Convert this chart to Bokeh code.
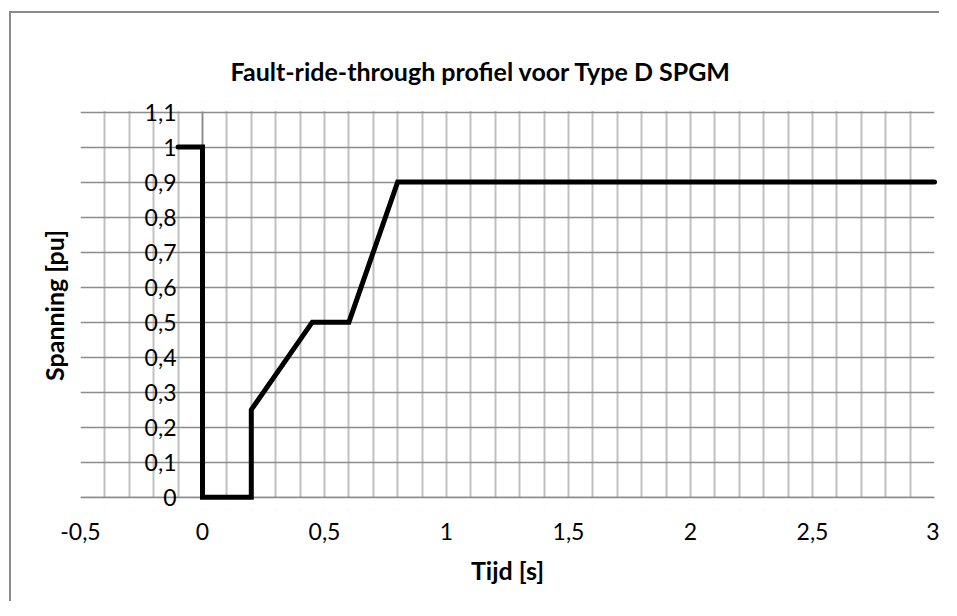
from bokeh.plotting import figure
from bokeh.models import (Range1d, FixedTicker, LinearAxis, CustomJSTickFormatter,
                          Title, BoxAnnotation)
from bokeh.embed import file_html
from bokeh.resources import INLINE
import numpy as np

# ---- data ----
tijd = [-0.1, 0.0, 0.0, 0.2, 0.2, 0.45, 0.6, 0.8, 3.0]
spanning = [1.0, 1.0, 0.0, 0.0, 0.25, 0.5, 0.5, 0.9, 0.9]

x_ticks = [-0.5, 0.0, 0.5, 1.0, 1.5, 2.0, 2.5, 3.0]
y_ticks = [0.0, 0.1, 0.2, 0.3, 0.4, 0.5, 0.6, 0.7, 0.8, 0.9, 1.0, 1.1]
x_minor_grid = [round(v, 1) for v in np.arange(-0.5, 3.0001, 0.1)]

title_text = "Fault-ride-through profiel voor Type D SPGM"
x_label = "Tijd [s]"
y_label = "Spanning [pu]"

X_MIN, X_MAX = -0.5, 3.0
Y_MIN, Y_MAX = 0.0, 1.1

FONT = "Lato"
TICK_SIZE = "23px"
LABEL_SIZE = "25px"

# a little room above 1.1 and below 0 so the y tick labels are not cut off
p = figure(width=930, height=590, output_backend="svg", toolbar_location=None,
           x_range=Range1d(X_MIN, X_MAX), y_range=Range1d(-0.035, 1.13),
           min_border_left=69, min_border_right=7, min_border_top=88,
           min_border_bottom=94)
p.outline_line_color = None
p.background_fill_color = "white"
p.border_fill_color = "white"
# chart-area border (only the left and top edges are visible in the reference)
p.styles = {"margin-left": "9px", "margin-top": "11px",
            "border-left": "2px solid #8a8a8a", "border-top": "2px solid #8a8a8a"}

fmt = CustomJSTickFormatter(code="""
    var s = String(Number(tick.toFixed(2)));
    return s.replace('.', ',');
""")

# x axis (labels only; the axis line is drawn at y = 0 by a second axis)
xa = p.xaxis[0]
xa.ticker = FixedTicker(ticks=x_ticks)
xa.formatter = fmt
xa.axis_line_color = None
xa.major_tick_line_color = None
xa.minor_tick_line_color = None
xa.major_tick_out = 0
xa.major_tick_in = 0
xa.major_label_standoff = 13
xa.major_label_text_font = FONT
xa.major_label_text_font_size = TICK_SIZE
xa.major_label_text_color = "black"
xa.axis_label = x_label
xa.axis_label_text_font = FONT
xa.axis_label_text_font_size = LABEL_SIZE
xa.axis_label_text_font_style = "bold"
xa.axis_label_text_color = "black"
xa.axis_label_standoff = 12

xline = LinearAxis(fixed_location=0, bounds=(X_MIN, X_MAX), ticker=FixedTicker(ticks=[]),
                   axis_line_color="#8a8a8a", axis_line_width=1.5,
                   major_tick_line_color=None, minor_tick_line_color=None)
p.add_layout(xline, "below")

# y axis crossing at x = 0
ya = p.yaxis[0]
ya.fixed_location = 0
ya.bounds = (Y_MIN, Y_MAX)
ya.ticker = FixedTicker(ticks=y_ticks)
ya.formatter = fmt
ya.axis_line_color = "#8a8a8a"
ya.axis_line_width = 1.5
ya.major_tick_line_color = None
ya.minor_tick_line_color = None
ya.major_tick_out = 0
ya.major_tick_in = 0
ya.major_label_standoff = 26
ya.major_label_text_font = FONT
ya.major_label_text_font_size = TICK_SIZE
ya.major_label_text_color = "black"

# separate axis holding only the y label at the left edge
ylab = LinearAxis(ticker=FixedTicker(ticks=[]), axis_label=y_label,
                  axis_line_color=None, major_tick_line_color=None,
                  minor_tick_line_color=None, major_tick_out=0)
ylab.axis_label_text_font = FONT
ylab.axis_label_text_font_size = LABEL_SIZE
ylab.axis_label_text_font_style = "bold"
ylab.axis_label_text_color = "black"
ylab.axis_label_standoff = 12
p.add_layout(ylab, "left")

# grids
p.xgrid.ticker = FixedTicker(ticks=x_minor_grid)
p.xgrid.grid_line_color = "#c0c0c0"
p.xgrid.grid_line_width = 2
p.ygrid.ticker = FixedTicker(ticks=y_ticks)
p.ygrid.grid_line_color = "#8c8c8c"
p.ygrid.grid_line_width = 1.5

# white masks hiding the grid outside 0..1.1
p.add_layout(BoxAnnotation(bottom=Y_MAX + 0.003, fill_color="white", fill_alpha=1,
                           line_color=None, level="underlay"))
p.add_layout(BoxAnnotation(top=Y_MIN - 0.002, fill_color="white", fill_alpha=1,
                           line_color=None, level="underlay"))

# title
t = Title(text=title_text, align="left", text_font=FONT, text_font_size=LABEL_SIZE,
          text_font_style="bold", text_color="black", standoff=32, offset=150)
p.add_layout(t, "above")

p.line(tijd, spanning, line_color="black", line_width=5,
       line_join="miter", line_cap="round", level="overlay")

open("out.html", "w").write(file_html(p, INLINE))
